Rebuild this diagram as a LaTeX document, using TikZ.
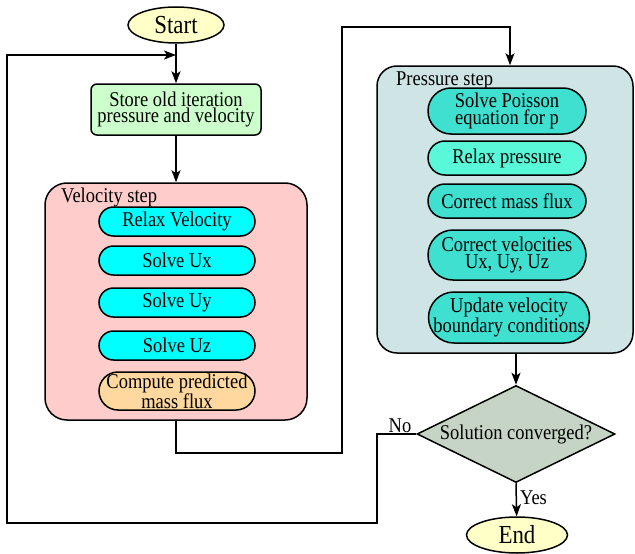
\documentclass[tikz,border=0pt]{standalone}
\usepackage{fontspec}
\setmainfont{Liberation Serif}[FakeStretch=0.88]
\usetikzlibrary{arrows.meta,shapes.geometric}
\definecolor{cStart}{HTML}{FFFFC8}
\definecolor{cStore}{HTML}{CCFFCC}
\definecolor{cVel}{HTML}{FFCCCC}
\definecolor{cCyan}{HTML}{00FFFF}
\definecolor{cOrange}{HTML}{FFD8A0}
\definecolor{cPres}{HTML}{CFE5E5}
\definecolor{cTurq}{HTML}{40E0D0}
\definecolor{cTurqL}{HTML}{58F8D8}
\definecolor{cDia}{HTML}{C6D4C6}
\tikzset{
  txt/.style={font=\fontsize{21}{16.8}\selectfont, align=center, inner sep=0pt},
  bigtxt/.style={font=\fontsize{26}{28}\selectfont, inner sep=0pt},
  term/.style={bigtxt, draw, line width=1.5pt, ellipse, fill=cStart, minimum width=96pt, minimum height=36pt},
  pill/.style={txt, draw, line width=1.5pt, rectangle, rounded corners=#1},
  group/.style={draw, line width=1.5pt, rectangle, rounded corners=22pt, inner sep=0pt},
  arr/.style={line width=1.5pt, -{Stealth[length=12pt,width=9pt,inset=3pt]}},
}
\begin{document}
\begin{tikzpicture}[x=1pt,y=-1pt]
\useasboundingbox (0,0) rectangle (635,554);
% groups
\node[group, fill=cVel, minimum width=262pt, minimum height=237pt] (vel) at (176,301.5) {};
\node[txt, anchor=base west] (vellab) at (61,202) {Velocity step};
\node[group, fill=cPres, minimum width=256pt, minimum height=287pt, rounded corners=20pt] (pres) at (505,209.5) {};
\node[txt, anchor=base west] (preslab) at (396,85) {Pressure step};
% terminals
\node[term] (start) at (176,25) {Start};
\node[term, minimum width=101pt] (end) at (517,535) {End};
% store
\node[pill=6pt, fill=cStore, minimum width=170pt, minimum height=51pt] (store) at (176,109.5) {Store old iteration\\pressure and velocity};
% velocity inner
\node[pill=14.5pt, fill=cCyan, minimum width=156pt, minimum height=29pt] (relv) at (177,221.5) {Relax Velocity};
\node[pill=14.5pt, fill=cCyan, minimum width=156pt, minimum height=29pt] (ux) at (177,260.5) {Solve Ux};
\node[pill=14.5pt, fill=cCyan, minimum width=156pt, minimum height=29pt] (uy) at (177,302.5) {Solve Uy};
\node[pill=14.5pt, fill=cCyan, minimum width=156pt, minimum height=29pt] (uz) at (177,345.5) {Solve Uz};
\node[pill=19pt, fill=cOrange, minimum width=156pt, minimum height=38pt] (comp) at (177,391) {Compute predicted\\mass flux};
% pressure inner
\node[pill=23pt, fill=cTurq, minimum width=158pt, minimum height=46pt] (pois) at (507,111) {Solve Poisson\\equation for p};
\node[pill=17pt, fill=cTurqL, minimum width=158pt, minimum height=34pt] (relp) at (507,158) {Relax pressure};
\node[pill=17pt, fill=cTurq, minimum width=158pt, minimum height=34pt] (cmf) at (507,201) {Correct mass flux};
\node[pill=25pt, fill=cTurq, minimum width=158pt, minimum height=50pt] (cvel) at (507,255) {Correct velocities\\Ux, Uy, Uz};
\node[pill=25.5pt, fill=cTurq, minimum width=161pt, minimum height=51pt] (upd) at (509,317.5) {Update velocity\\boundary conditions};
% decision
\node[txt, draw, line width=1.5pt, diamond, aspect=2, fill=cDia, minimum width=198pt, minimum height=97pt] (dia) at (516,434) {Solution converged?};
% coordinates
\coordinate (d1) at (342,453);
\coordinate (d3) at (510,27);
\coordinate (c1) at (377,523);
\coordinate (c2) at (7,523);
\coordinate (c3) at (7,55);
% connectors
\draw[arr] (start) -- (store);
\draw[arr] (store) -- (vel);
\draw[arr] (vel.south) |- (d1) |- (d3) -- (d3 |- pres.north);
\draw[arr] (pres.south -| dia.north) -- (dia.north);
\draw[arr] (dia.south) -- (end) node[txt, pos=0.45, anchor=west, xshift=3pt] (yes) {Yes};
\draw[arr] (dia.west) -| (c1) -- (c2) -- (c3) -- (c3 -| start.south);
\node[txt, anchor=south, inner sep=1pt] (no) at (400,434) {No};
\end{tikzpicture}
\end{document}
